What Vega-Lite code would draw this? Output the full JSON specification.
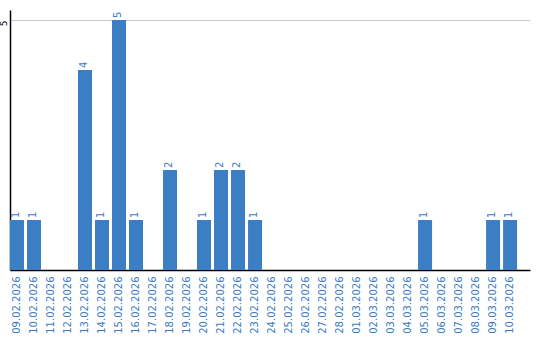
{
  "$schema": "https://vega.github.io/schema/vega-lite/v6.json",
  "autosize": {"type": "none"},
  "padding": {"left": 10, "top": 10, "right": 10, "bottom": 70},
  "width": 520,
  "height": 260,
  "background": "white",
  "data": {"values": [
    {"date": "09.02.2026", "count": 1},
    {"date": "10.02.2026", "count": 1},
    {"date": "11.02.2026", "count": 0},
    {"date": "12.02.2026", "count": 0},
    {"date": "13.02.2026", "count": 4},
    {"date": "14.02.2026", "count": 1},
    {"date": "15.02.2026", "count": 5},
    {"date": "16.02.2026", "count": 1},
    {"date": "17.02.2026", "count": 0},
    {"date": "18.02.2026", "count": 2},
    {"date": "19.02.2026", "count": 0},
    {"date": "20.02.2026", "count": 1},
    {"date": "21.02.2026", "count": 2},
    {"date": "22.02.2026", "count": 2},
    {"date": "23.02.2026", "count": 1},
    {"date": "24.02.2026", "count": 0},
    {"date": "25.02.2026", "count": 0},
    {"date": "26.02.2026", "count": 0},
    {"date": "27.02.2026", "count": 0},
    {"date": "28.02.2026", "count": 0},
    {"date": "01.03.2026", "count": 0},
    {"date": "02.03.2026", "count": 0},
    {"date": "03.03.2026", "count": 0},
    {"date": "04.03.2026", "count": 0},
    {"date": "05.03.2026", "count": 1},
    {"date": "06.03.2026", "count": 0},
    {"date": "07.03.2026", "count": 0},
    {"date": "08.03.2026", "count": 0},
    {"date": "09.03.2026", "count": 1},
    {"date": "10.03.2026", "count": 1}
  ]},
  "config": {"view": {"stroke": null}, "font": "DejaVu Sans"},
  "encoding": {
    "x": {
      "field": "date", "type": "ordinal", "sort": null,
      "scale": {"paddingInner": 0.176, "paddingOuter": 0.38, "align": 0},
      "axis": {"title": null, "labelAngle": -90, "labelColor": "#3a7bc2", "labelFontSize": 10,
               "labelPadding": 6, "ticks": false, "domainColor": "#000000", "domainWidth": 1.5, "grid": false}
    },
    "y": {
      "field": "count", "type": "quantitative",
      "scale": {"domain": [0, 5.2], "nice": false},
      "axis": {"title": null, "values": [5], "labelAngle": -90, "labelAlign": "right", "labelBaseline": "bottom",
               "labelFontSize": 9, "labelColor": "#000000", "labelPadding": 2, "ticks": false,
               "domainColor": "#000000", "domainWidth": 1.5, "grid": true, "gridColor": "#c8c8c8", "gridWidth": 1}
    }
  },
  "layer": [
    {"mark": {"type": "bar", "color": "#3b7ec4"}},
    {
      "transform": [{"filter": "datum.count > 0"}],
      "mark": {"type": "text", "angle": -90, "align": "left", "baseline": "middle", "dx": 2, "dy": -1,
               "fontSize": 10, "color": "#3a7bc2"},
      "encoding": {"text": {"field": "count", "type": "quantitative"}}
    }
  ]
}
